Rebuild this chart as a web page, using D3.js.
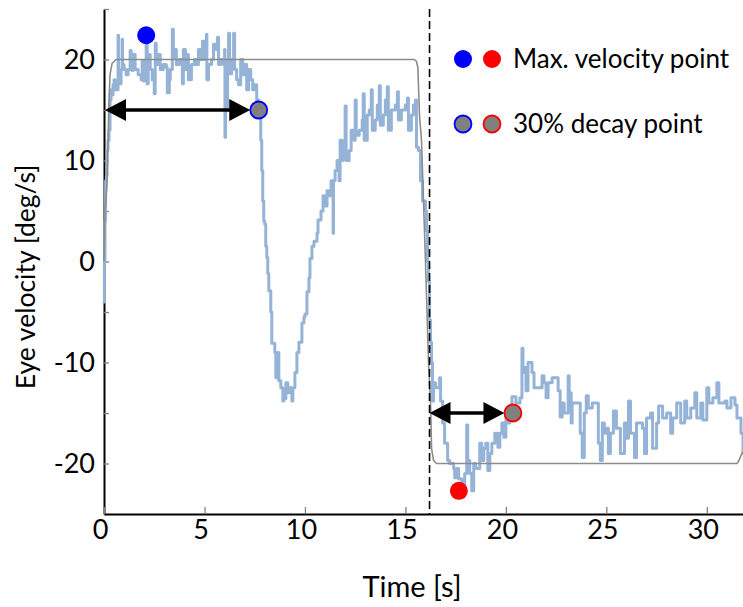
<!DOCTYPE html>
<html>
<head>
<meta charset="utf-8">
<script src="https://cdn.jsdelivr.net/npm/d3@7"></script>
<style>
  html, body { margin: 0; padding: 0; background: #fff; }
  svg { display: block; }
  text { font-family: Lato, "Open Sans", sans-serif; fill: #000; }
</style>
</head>
<body>
<svg id="chart" width="743" height="607"></svg>
<script>
// Eye velocity trace: time [s] and velocity [deg/s]
const traceTime = [
  0.00,0.02,0.05,0.08,0.12,0.15,0.20,0.25,0.30,0.35,0.40,0.45,0.50,0.55,
  0.65,0.70,0.72,0.80,0.85,0.90,0.92,1.00,1.10,1.20,1.30,1.35,1.40,1.45,1.55,1.70,1.85,1.90,1.95,2.05,2.10,2.15,2.20,2.30,2.40,2.50,2.55,2.60,2.70,2.80,2.95,3.10,3.15,3.25,3.30,3.40,3.45,3.50,3.60,3.75,3.90,3.95,4.05,4.15,4.20,4.35,4.50,4.60,4.70,4.80,4.90,5.00,5.10,5.12,5.20,5.35,5.45,5.55,5.65,5.70,5.80,5.95,6.00,6.02,6.05,6.15,6.20,6.25,6.35,6.45,6.50,6.60,6.70,6.80,6.90,7.00,7.10,7.20,7.30,7.40,7.50,7.60,
  7.70,7.80,7.85,7.90,7.95,8.00,8.05,8.10,8.15,8.20,8.30,8.35,8.50,8.55,8.65,8.70,8.80,8.90,8.95,
  9.00,9.05,9.15,9.25,9.35,9.40,9.50,9.60,9.70,9.85,9.95,10.00,10.10,10.20,10.25,10.35,10.45,10.60,10.65,10.80,10.90,11.00,11.10,11.20,11.30,11.40,11.42,11.50,11.60,11.70,11.75,11.85,11.90,12.00,12.05,12.20,12.30,12.45,12.50,12.55,12.70,12.85,12.90,12.95,13.10,13.20,13.30,13.35,13.50,13.60,13.70,13.75,13.90,14.00,14.10,14.15,14.30,14.50,14.60,14.65,14.80,15.00,15.10,15.15,15.30,15.40,15.50,15.55,15.65,15.75,15.85,16.00,16.05,16.10,
  16.15,16.20,16.25,16.30,16.35,16.40,16.50,16.70,16.75,16.85,16.95,17.10,17.20,17.40,17.45,17.55,17.65,17.80,17.95,18.05,18.10,18.20,18.30,18.40,18.50,18.70,18.80,18.90,19.00,19.10,19.20,19.30,19.45,19.60,19.70,19.80,19.90,20.00,20.10,20.20,20.30,20.50,20.70,20.80,20.85,20.90,21.00,21.10,21.30,21.40,21.80,21.90,22.00,22.10,22.30,22.60,22.70,22.80,22.90,23.10,23.15,23.25,23.30,23.70,23.80,23.90,24.00,24.10,24.30,24.60,24.70,24.80,24.90,25.00,25.10,25.20,25.35,25.50,25.70,25.90,26.00,26.10,26.20,26.40,26.50,26.80,26.90,27.00,27.20,27.30,27.50,27.60,27.80,28.00,28.20,28.30,28.50,28.70,28.90,29.00,29.20,29.40,29.50,29.70,29.80,30.00,30.10,30.30,30.50,30.60,30.90,31.00,31.20,31.40,31.50,31.70,31.80
];
const traceVelocity = [
  -4,0,4,8,8.5,11,12,13,16,17,16.5,17.5,18,17,
  17,22.4,18,17.6,19,22,19.5,19,18.5,19,20.9,19,18.9,20.5,19,18.5,18,19.9,17.9,18.5,22.4,17.6,20.5,19,18,16.6,21.6,19.5,20.5,19,19.5,19.2,16.7,18,19,23,20.2,21,19.5,20,17.6,21,19,20.5,18,19.5,20,19.5,21,20,21.8,20,22.5,18,19.5,20,21.5,21,22.2,19.5,20,19.5,21,12.3,15,20,22.6,18.6,20,22.6,19,18,17.5,20,18.5,19.5,17,19,18,17,17.5,16,
  14.3,12,9,6,4,3.7,1.5,0.4,-1.2,-2.9,-5,-8.1,-9,-11.5,-9,-11.8,-12.5,-13.8,-13.6,
  -13.6,-12,-13,-12.5,-13.8,-12.5,-11,-9,-8,-6.1,-5.5,-5.2,-3,-1.6,0.3,1.5,2,2.8,4.1,5,6.5,5.5,7,6.5,8,2.8,8,9,10,8,12,10,11.5,15.4,10,11,13,12,16,12.5,13,14,16.6,12,14.5,15,17,13,14,15.5,17.4,13.5,14.5,16,17.3,13,15,15.5,16.8,14,15,15.5,16.2,13,14.5,15.5,16,11.3,11,8,6,5,3,0,
  -2,-5.8,-8,-10,-13.8,-12,-12.5,-11.5,-13.8,-16,-18,-19.7,-20,-20.5,-21.4,-20.5,-21.5,-22,-21,-16.2,-19.7,-21,-22.7,-20,-20.5,-18,-19.7,-18.5,-18,-20.7,-19,-18,-17,-18.4,-17,-16,-17.4,-15,-16,-15,-13.4,-14,-13.5,-8.6,-11,-10.5,-12.8,-10,-11,-12.5,-11.3,-12,-13.5,-12,-11.5,-12.8,-15.4,-14,-15,-11.3,-13,-16,-14,-17,-19.4,-15,-13.3,-14.5,-14,-18,-19.7,-16,-17,-16.5,-19,-17,-14.8,-16.5,-19,-16,-17.5,-13.8,-17,-19.4,-16,-16.5,-19,-15.5,-15,-18.5,-16,-14.3,-15.5,-15,-17,-15.5,-14,-16,-13.8,-15.5,-14.5,-13,-15.5,-14,-15.7,-12.5,-14,-13.5,-12,-14,-13.8,-14.5,-13.5,-14.2,-15.5,-17,-19
];

// Stimulus (target) velocity profile
const stimTime = [0.00,0.05,0.15,0.20,0.25,0.30,0.40,0.60,15.45,15.55,15.62,15.70,15.80,16.00,16.15,16.25,16.30,16.40,16.55,31.50,31.60,31.70,31.80];
const stimVelocity = [0,5,7.5,12,16,18.5,19.6,20,20,19.8,19.2,14.5,12,0,-10,-14,-18.5,-19.7,-20,-20,-19.7,-19.2,-18.8];

// Direction reversal time
const reversalTime = 16.2;

// Marked points: maximum velocity and 30% decay, for each direction
const maxPointTime = [2.1, 17.66];
const maxPointVelocity = [22.4, -22.7];
const decayPointTime = [7.7, 20.35];
const decayPointVelocity = [15, -15];
const pointColors = ["#0000ff", "#ff0000"];

// Decay intervals: start of motion to 30% decay point
const intervalStart = [0, reversalTime];

// Axes
const xTicks = [0, 5, 10, 15, 20, 25, 30];
const yTicks = [-25, -20, -15, -10, -5, 0, 5, 10, 15, 20, 25];
const yLabelTicks = [-20, -10, 0, 10, 20];

const legendLabels = ["Max. velocity point", "30% decay point"];

const svg = d3.select("#chart");
svg.append("rect").attr("width", 743).attr("height", 607).attr("fill", "#fff");

const x = d3.scaleLinear().domain([0, 31.8]).range([104, 743]);
const y = d3.scaleLinear().domain([-25, 25]).range([514, 9]);

// Y axis
const yAxis = svg.append("g").attr("transform", `translate(${x(0)},0)`)
  .call(d3.axisLeft(y).tickValues(yTicks).tickSize(-5).tickSizeOuter(0).tickPadding(9)
    .tickFormat(d => yLabelTicks.includes(d) ? String(d) : ""));
yAxis.attr("font-family", null);
yAxis.select(".domain").attr("stroke", "#000").attr("stroke-width", 2);
yAxis.selectAll(".tick line").attr("stroke", "#808080").attr("stroke-width", 1.3);
yAxis.selectAll(".tick text").attr("font-size", 27).attr("fill", "#000");

// X axis
const xAxis = svg.append("g").attr("transform", `translate(0,${y(-25)})`)
  .call(d3.axisBottom(x).tickValues(xTicks).tickSize(-7).tickSizeOuter(0).tickPadding(6));
xAxis.attr("font-family", null);
xAxis.select(".domain").attr("stroke", "#000").attr("stroke-width", 2);
xAxis.selectAll(".tick line").attr("stroke", "#808080").attr("stroke-width", 1.3);
xAxis.selectAll(".tick text").attr("font-size", 27).attr("fill", "#000").attr("dx", -4);

// Axis titles
svg.append("text").attr("x", 412).attr("y", 597).attr("text-anchor", "middle")
  .attr("font-size", 29).text("Time [s]");
svg.append("text").attr("transform", "translate(35,277) rotate(-90)")
  .attr("text-anchor", "middle").attr("font-size", 26.5).text("Eye velocity [deg/s]");

// Eye velocity trace (sample-and-hold)
const trace = traceTime.map((t, i) => [t, traceVelocity[i]]);
svg.append("path").datum(trace)
  .attr("d", d3.line().curve(d3.curveStepAfter).x(d => x(d[0])).y(d => y(d[1])))
  .attr("fill", "none").attr("stroke", "#95b3d7").attr("stroke-width", 3)
  .attr("stroke-linejoin", "round").attr("stroke-linecap", "round");

// Stimulus profile
const stim = stimTime.map((t, i) => [t, stimVelocity[i]]);
svg.append("path").datum(stim)
  .attr("d", d3.line().x(d => x(d[0])).y(d => y(d[1])))
  .attr("fill", "none").attr("stroke", "#8c8c8c").attr("stroke-width", 1.6)
  .attr("stroke-linejoin", "round");

// Reversal marker
svg.append("line")
  .attr("x1", x(reversalTime)).attr("x2", x(reversalTime))
  .attr("y1", y(25)).attr("y2", y(-25))
  .attr("stroke", "#000").attr("stroke-width", 1.6).attr("stroke-dasharray", "8,4");

// Double-headed arrows from interval start to decay point
const r = 8.5;
const headLen = 21, headHalf = 11;
intervalStart.forEach((t0, i) => {
  const x0 = x(t0) + (i === 0 ? 1 : 0);
  const x1 = x(decayPointTime[i]) - r;
  const yy = y(decayPointVelocity[i]);
  const g = svg.append("g");
  g.append("line").attr("x1", x0 + headLen - 2).attr("x2", x1 - headLen + 2)
    .attr("y1", yy).attr("y2", yy).attr("stroke", "#000").attr("stroke-width", 3.5);
  g.append("path").attr("d", `M${x0},${yy}L${x0 + headLen},${yy - headHalf}L${x0 + headLen},${yy + headHalf}Z`)
    .attr("fill", "#000");
  g.append("path").attr("d", `M${x1},${yy}L${x1 - headLen},${yy - headHalf}L${x1 - headLen},${yy + headHalf}Z`)
    .attr("fill", "#000");
});

// Max velocity points
svg.selectAll(".maxpt").data(maxPointTime).join("circle")
  .attr("cx", d => x(d)).attr("cy", (d, i) => y(maxPointVelocity[i]))
  .attr("r", 9).attr("fill", (d, i) => pointColors[i]);

// 30% decay points
svg.selectAll(".decaypt").data(decayPointTime).join("circle")
  .attr("cx", d => x(d)).attr("cy", (d, i) => y(decayPointVelocity[i]))
  .attr("r", r).attr("fill", "#808080")
  .attr("stroke", (d, i) => pointColors[i]).attr("stroke-width", 1.8);

// Legend
const legend = svg.append("g");
const rowsY = [59, 124];
pointColors.forEach((c, i) => {
  legend.append("circle").attr("cx", 463 + i * 29).attr("cy", rowsY[0]).attr("r", 9).attr("fill", c);
  legend.append("circle").attr("cx", 463 + i * 29).attr("cy", rowsY[1]).attr("r", r)
    .attr("fill", "#808080").attr("stroke", c).attr("stroke-width", 1.8);
});
legendLabels.forEach((t, i) => {
  legend.append("text").attr("x", 513).attr("y", rowsY[i] + 9).attr("font-size", 26).text(t);
});
</script>
</body>
</html>
